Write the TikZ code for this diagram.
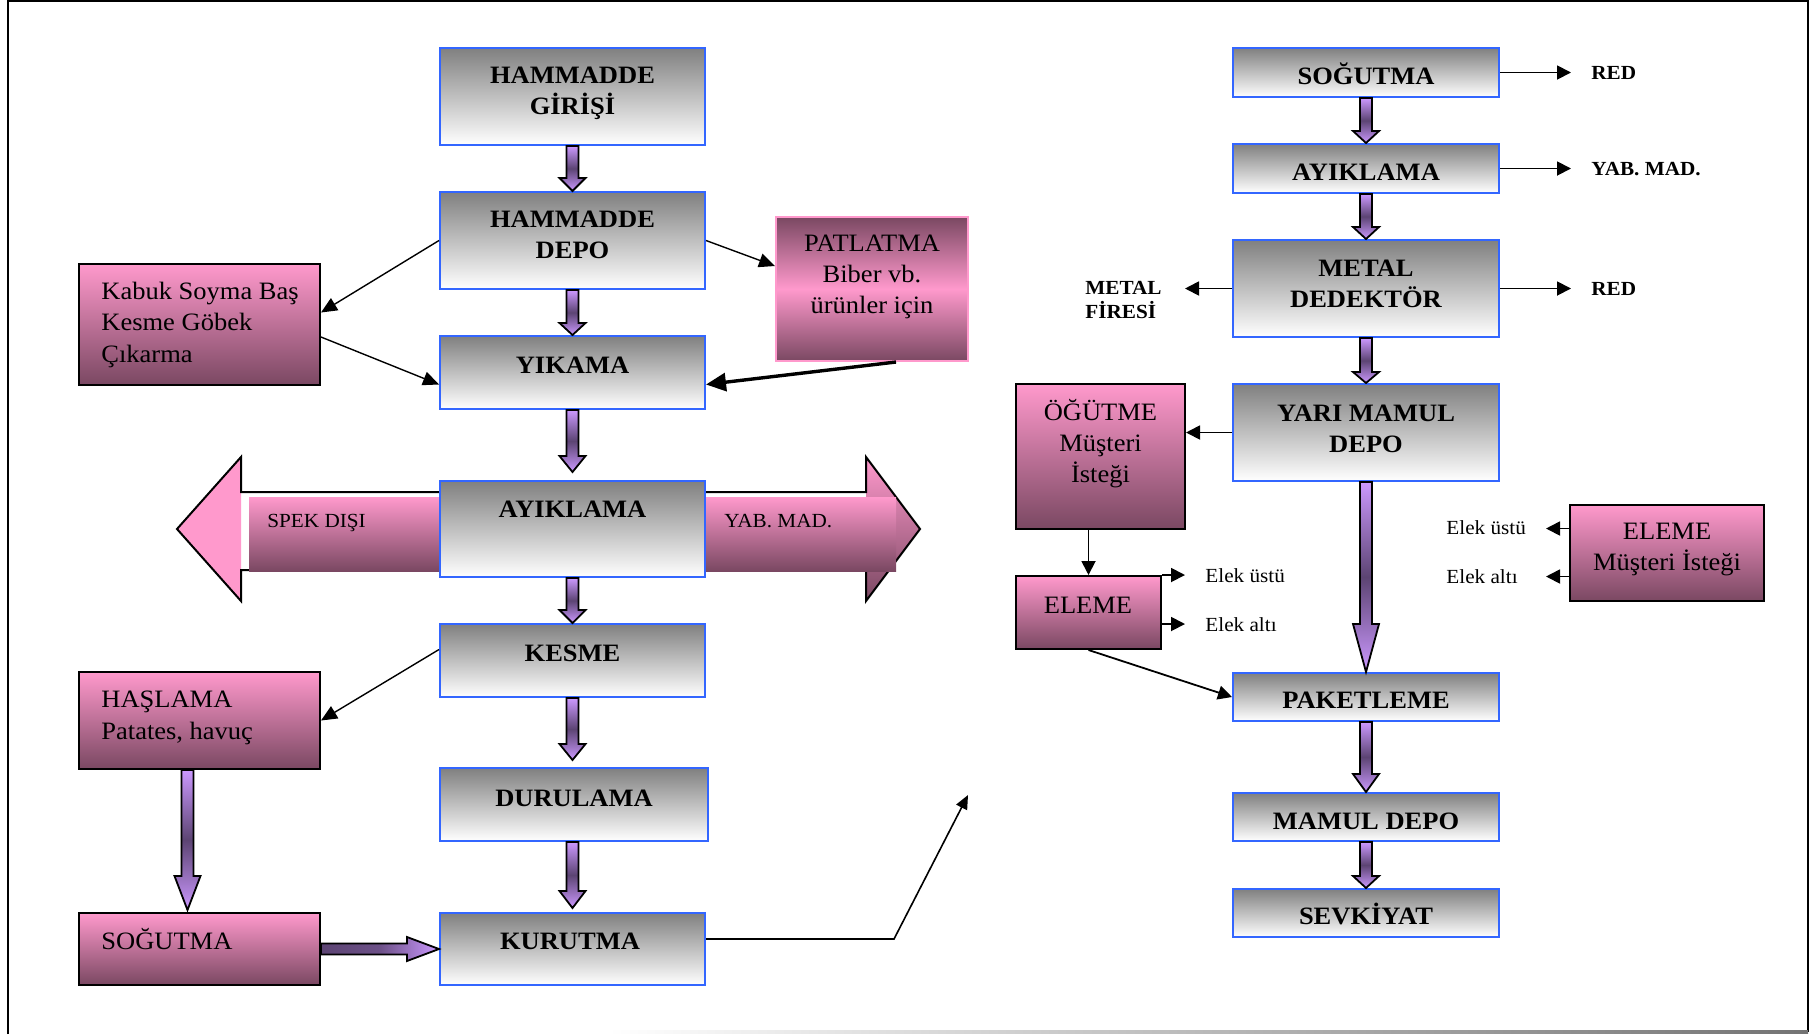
\documentclass[tikz,border=0pt]{standalone}
\usepackage{fontspec}
\setmainfont{Liberation Serif}[FakeStretch=1.06]
\usetikzlibrary{calc,arrows.meta}
\definecolor{pinkc}{RGB}{255,153,204}
\definecolor{mauve}{RGB}{122,72,98}
\definecolor{gtop}{RGB}{128,128,128}
\definecolor{boxblue}{RGB}{51,102,255}
\definecolor{alight}{RGB}{204,153,255}
\definecolor{adark}{RGB}{92,68,115}
\newcommand{\blkdown}[4]{%
  \draw[blkarr] let \p1=(#1), \p2=(#2) in
   (\x1-3pt,\y1) -- (\x1+3pt,\y1) -- (\x1+3pt,\y2+#3*0.5pt+#4*0.5pt) -- (\x1+6.5pt,\y2+#3*0.5pt+#4*0.5pt)
   -- (\x1,\y2+#3*0.5pt) -- (\x1-6.5pt,\y2+#3*0.5pt+#4*0.5pt) -- (\x1-3pt,\y2+#3*0.5pt+#4*0.5pt) -- cycle;}
\newcommand{\blkright}[3]{%
  \draw[draw=black, line width=0.9pt, line join=miter, left color=adark, right color=alight, middle color=adark!85!alight]
   let \p1=(#1), \p2=(#2) in
   (\x1,\y1+2.75pt) -- (\x2-#3*0.5pt,\y1+2.75pt) -- (\x2-#3*0.5pt,\y1+6pt) -- (\x2,\y1)
   -- (\x2-#3*0.5pt,\y1-6pt) -- (\x2-#3*0.5pt,\y1-2.75pt) -- (\x1,\y1-2.75pt) -- cycle;}
\begin{document}
\begin{tikzpicture}[x=0.5pt,y=-0.5pt,
  graybox/.style={draw=boxblue, line width=1pt, top color=gtop, bottom color=white, inner sep=0},
  pinkbox/.style={draw=black, line width=1pt, top color=pinkc, bottom color=mauve, inner sep=0},
  gtext/.style={font=\fontsize{12.5}{15.5}\selectfont\bfseries, align=center, inner sep=0, anchor=base},
  ptext/.style={font=\fontsize{12.5}{15.75}\selectfont, align=left, inner sep=0, anchor=base west},
  pctext/.style={font=\fontsize{12.5}{15.5}\selectfont, align=center, inner sep=0, anchor=base},
  stext/.style={font=\fontsize{10}{12}\selectfont, inner sep=0, anchor=base west},
  btext/.style={font=\fontsize{10}{12}\selectfont\bfseries, align=left, inner sep=0, anchor=base west},
  blkarr/.style={draw=black, line width=0.9pt, line join=miter, top color=alight, bottom color=alight, middle color=adark},
  tarr/.style={line width=0.9pt, -{Triangle[length=7pt,width=7pt]}},
  darr/.style={line width=0.7pt, -{Triangle[length=8pt,width=7pt]}},
]
\useasboundingbox (0,0) rectangle (1813,1034);
% frame
\draw[line width=1pt] (8,1034) -- (8,1) -- (1808,1) -- (1808,1032);
\shade[left color=white, right color=black!55] (608,1030.5) rectangle (1808,1033);

% big double arrow behind AYIKLAMA
\fill[pinkc] (241,457) -- (177,529) -- (241,601) -- cycle;
\shade[top color=pinkc, bottom color=mauve] (866,457) -- (920,529) -- (866,601) -- cycle;
\draw[line width=1pt, line join=miter] (177,529) -- (241,457) -- (241,492) -- (866,492) -- (866,457) -- (920,529)
  -- (866,601) -- (866,570) -- (241,570) -- (241,601) -- cycle;
\shade[top color=pinkc, bottom color=mauve] (249,497) rectangle (440,571);
\shade[top color=pinkc, bottom color=mauve] (705,497) rectangle (896,571);

% left column gray boxes
\node[graybox, minimum width=132.5pt, minimum height=48.5pt] (gir) at (572.5,96.5) {};
\node[graybox, minimum width=132.5pt, minimum height=48.5pt] (depo) at (572.5,240.5) {};
\node[graybox, minimum width=132.5pt, minimum height=36.5pt] (yik) at (572.5,372.5) {};
\node[graybox, minimum width=132.5pt, minimum height=48pt] (ayk) at (572.5,529) {};
\node[graybox, minimum width=132.5pt, minimum height=36.5pt] (kes) at (572.5,660.5) {};
\node[graybox, minimum width=134pt, minimum height=36.5pt] (dur) at (574,804.5) {};
\node[graybox, minimum width=132.5pt, minimum height=36pt] (kur) at (572.5,949) {};
% left pink boxes
\node[pinkbox, minimum width=120.5pt, minimum height=60.5pt] (kab) at (199.5,324.5) {};
\node[pinkbox, minimum width=120.5pt, minimum height=48.5pt] (has) at (199.5,720.5) {};
\node[pinkbox, minimum width=120.5pt, minimum height=36pt] (sogL) at (199.5,949) {};
\node[pinkbox, draw=pinkc, top color=mauve, bottom color=mauve, middle color=pinkc,
      minimum width=96pt, minimum height=72pt] (pat) at (872,289) {};
% right column gray boxes
\node[graybox, minimum width=133pt, minimum height=24.5pt] (sogR) at (1366,72.5) {};
\node[graybox, minimum width=133pt, minimum height=24.5pt] (aykR) at (1366,168.5) {};
\node[graybox, minimum width=133pt, minimum height=48.5pt] (met) at (1366,288.5) {};
\node[graybox, minimum width=133pt, minimum height=48.5pt] (yari) at (1366,432.5) {};
\node[graybox, minimum width=133pt, minimum height=24pt] (pak) at (1366,697) {};
\node[graybox, minimum width=133pt, minimum height=24pt] (mam) at (1366,817) {};
\node[graybox, minimum width=133pt, minimum height=24pt] (sev) at (1366,913) {};
% right pink boxes
\node[pinkbox, minimum width=84.5pt, minimum height=72.5pt] (ogu) at (1100.5,456.5) {};
\node[pinkbox, minimum width=72.5pt, minimum height=36.5pt] (el1) at (1088.5,612.5) {};
\node[pinkbox, minimum width=97pt, minimum height=48pt] (el2) at (1667,553) {};

% texts (base anchor = last line baseline)
\node[gtext] (t-gir) at (572.5,114) {HAMMADDE\\GİRİŞİ};
\node[gtext] (t-depo) at (572.5,258) {HAMMADDE\\DEPO};
\node[gtext] (t-yik) at (572.5,373) {YIKAMA};
\node[gtext] (t-ayk) at (572.5,517) {AYIKLAMA};
\node[gtext] (t-kes) at (572.5,661) {KESME};
\node[gtext] (t-dur) at (574,806) {DURULAMA};
\node[gtext] (t-kur) at (570,949) {KURUTMA};
\node[gtext] (t-sogR) at (1366,84) {SOĞUTMA};
\node[gtext] (t-aykR) at (1366,180) {AYIKLAMA};
\node[gtext] (t-met) at (1366,307) {METAL\\DEDEKTÖR};
\node[gtext] (t-yari) at (1366,452) {YARI MAMUL\\DEPO};
\node[gtext] (t-pak) at (1366,708) {PAKETLEME};
\node[gtext] (t-mam) at (1366,829) {MAMUL DEPO};
\node[gtext] (t-sev) at (1366,924.5) {SEVKİYAT};
\node[ptext] (t-kab) at (101,362) {Kabuk Soyma Baş\\Kesme Göbek\\Çıkarma};
\node[pctext] (t-pat) at (872,313) {PATLATMA\\Biber vb.\\ürünler için};
\node[ptext] (t-has) at (101,739) {HAŞLAMA\\Patates, havuç};
\node[ptext] (t-sogL) at (101,949) {SOĞUTMA};
\node[pctext] (t-ogu) at (1100.5,482) {ÖĞÜTME\\Müşteri\\İsteği};
\node[pctext] (t-el1) at (1088,613) {ELEME};
\node[pctext] (t-el2) at (1667,570) {ELEME\\Müşteri İsteği};
\node[stext] (spek) at (267,527) {SPEK DIŞI};
\node[stext] (yabL) at (724,527) {YAB. MAD.};
\node[btext] (red1) at (1591,79) {RED};
\node[btext] (yabR) at (1591,175) {YAB. MAD.};
\node[btext] (red2) at (1591,295) {RED};
\node[btext] (mfire) at (1085,318) {METAL\\FİRESİ};
\node[stext] (eu1) at (1205,582) {Elek üstü};
\node[stext] (ea1) at (1205,631) {Elek altı};
\node[stext] (eu2) at (1446,534) {Elek üstü};
\node[stext] (ea2) at (1446,583) {Elek altı};

% block arrows
\blkdown{gir.south}{depo.north}{0}{13}
\blkdown{depo.south}{yik.north}{0}{12}
\blkdown{yik.south}{ayk.north}{8}{16}
\blkdown{ayk.south}{kes.north}{0}{13}
\blkdown{kes.south}{dur.north}{7}{16}
\blkdown{kur.north |- dur.south}{kur.north}{4}{17}
\blkdown{$(has.south)+(-12,0)$}{sogL.north}{2}{34}
\blkright{sogL.east}{kur.west}{32}
\blkdown{sogR.south}{aykR.north}{0}{12}
\blkdown{aykR.south}{met.north}{0}{12}
\blkdown{met.south}{yari.north}{0}{11}
\blkdown{yari.south}{pak.north}{0}{48}
\blkdown{pak.south}{mam.north}{0}{18}
\blkdown{mam.south}{sev.north}{0}{12}

% thin connectors left
\draw[darr] (depo.west) -- ($(kab.east)+(0,-12)$);
\draw[darr] ($(kab.east)+(0,12.5)$) -- ($(yik.west)+(0,12)$);
\draw[darr] (depo.east) -- ($(pat.west)+(0,-23)$);
\draw[line width=1.7pt, -{Triangle[length=10pt,width=9pt]}] ($(pat.south)+(24,0)$) -- ($(yik.east)+(0,12)$);
\draw[darr] ($(kes.west)+(0,-11)$) -- (has.east);
\coordinate (kurbend) at (894,939);
\coordinate (kurend) at (968,795);
\draw[line width=0.8pt, -{Triangle[length=7pt,width=6pt]}] ($(kur.east)+(0,-10)$) -- (kurbend) -- (kurend);

% thin connectors right
\draw[tarr] (sogR.east) -- ++(71,0);
\draw[tarr] (aykR.east) -- ++(71,0);
\draw[tarr] (met.east) -- ++(71,0);
\draw[tarr] (met.west) -- ++(-47,0);
\draw[tarr] (yari.west) -- (yari.west -| ogu.east);
\draw[tarr] (el1.north |- ogu.south) -- (el1.north);
\draw[tarr] (el1.north east) -- ++(23,0);
\draw[tarr] ($(el1.east)+(0,11.5)$) -- ++(23,0);
\draw[tarr] ($(el2.west)+(0,-24.5)$) -- ++(-23,0);
\draw[tarr] ($(el2.west)+(0,23.5)$) -- ++(-23,0);
\draw[tarr] (el1.south) -- (pak.west);
\end{tikzpicture}
\end{document}
